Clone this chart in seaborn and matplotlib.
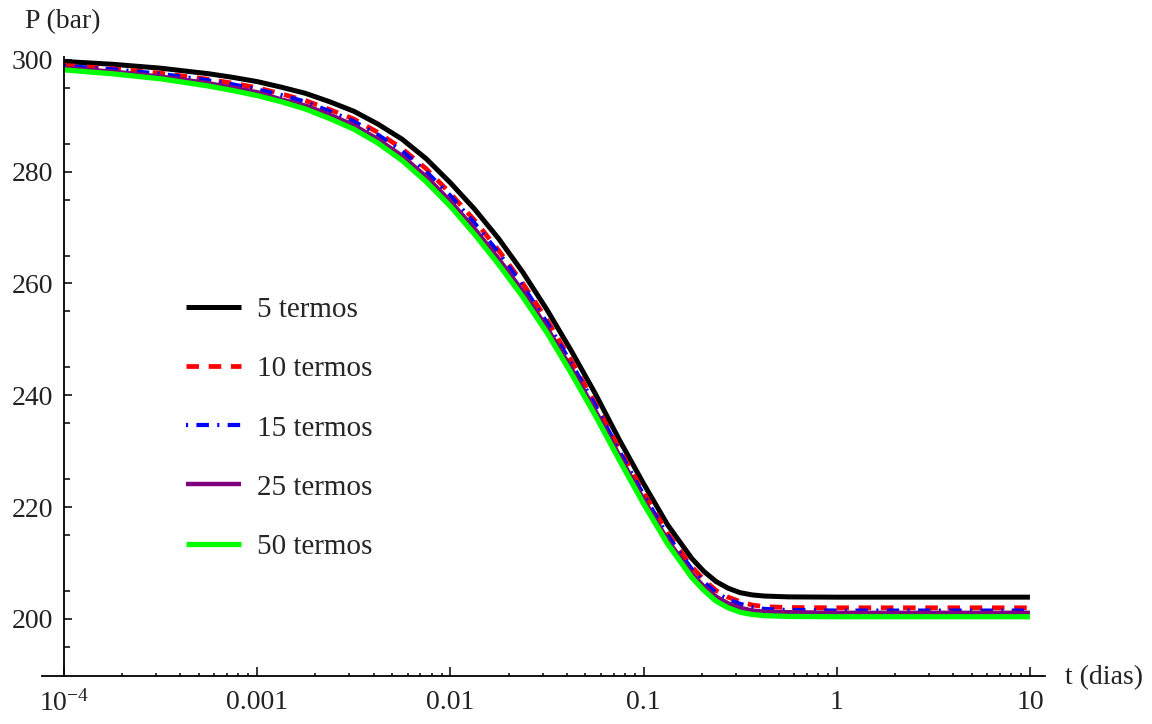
import numpy as np
import pandas as pd
import matplotlib
matplotlib.use("Agg")
import matplotlib.pyplot as plt
import matplotlib.ticker as mticker
import seaborn as sns

# ---- data ----
log_t = [-4.00, -3.75, -3.50, -3.25, -3.125, -3.00, -2.875, -2.75, -2.625,
         -2.50, -2.375, -2.25, -2.125, -2.00, -1.875, -1.75, -1.625, -1.50,
         -1.375, -1.25, -1.125, -1.00, -0.875, -0.75, -0.6875, -0.625, -0.5625,
         -0.50, -0.4375, -0.375, -0.25, 0.00, 0.50, 1.00]

p_5 = [299.7, 299.2, 298.5, 297.5, 296.85, 296.1, 295.1, 294.0, 292.5,
       290.8, 288.5, 285.8, 282.3, 278.0, 273.3, 268.0, 262.0, 255.3,
       248.0, 240.3, 232.0, 224.2, 216.8, 210.8, 208.5, 206.7, 205.5,
       204.7, 204.3, 204.1, 203.95, 203.9, 203.9, 203.9]
p_10 = [299.0, 298.4, 297.6, 296.5, 295.8, 295.0, 293.9, 292.7, 291.1,
        289.4, 287.0, 284.1, 280.5, 276.1, 271.3, 265.9, 260.0, 253.5,
        246.2, 238.5, 230.4, 222.6, 215.3, 209.3, 207.0, 205.1, 203.9,
        203.1, 202.5, 202.2, 202.05, 202.0, 202.0, 202.0]
p_15 = [298.9, 298.3, 297.5, 296.3, 295.6, 294.7, 293.7, 292.5, 290.8,
        289.0, 286.6, 283.7, 280.0, 275.7, 270.8, 265.5, 259.6, 253.0,
        245.8, 238.2, 230.0, 222.2, 214.9, 208.9, 206.6, 204.7, 203.5,
        202.7, 202.1, 201.8, 201.6, 201.5, 201.5, 201.5]
p_25 = [298.5, 297.9, 297.0, 295.8, 295.0, 294.2, 292.9, 291.8, 290.2,
        288.3, 285.8, 282.8, 279.1, 274.7, 269.8, 264.4, 258.6, 252.1,
        244.9, 237.3, 229.2, 221.4, 214.1, 208.1, 205.8, 204.0, 202.8,
        202.0, 201.5, 201.3, 201.2, 201.1, 201.1, 201.1]
p_50 = [298.2, 297.5, 296.6, 295.3, 294.5, 293.6, 292.5, 291.2, 289.5,
        287.6, 285.1, 282.0, 278.2, 273.8, 268.8, 263.4, 257.6, 251.2,
        244.0, 236.4, 228.4, 220.6, 213.4, 207.4, 205.1, 203.2, 202.0,
        201.2, 200.8, 200.6, 200.45, 200.4, 200.4, 200.4]

series_labels = ["5 termos", "10 termos", "15 termos", "25 termos", "50 termos"]
series_values = [p_5, p_10, p_15, p_25, p_50]

y_ticks = [200, 220, 240, 260, 280, 300]
x_ticks = [1e-4, 1e-3, 1e-2, 1e-1, 1, 10]
x_tick_labels = ["$10^{-4}$", "0.001", "0.01", "0.1", "1", "10"]

# ---- styles ----
colors = ["#000000", "#ff0000", "#0000ff", "#800080", "#00ff00"]
widths = [3.6, 3.4, 3.0, 3.2, 3.8]
styles = ["-", (0, (9, 7)), (0, (1.5, 6, 9, 6)), "-", "-"]

sns.set_theme(style="white")
plt.rcParams["font.family"] = ["Liberation Serif", "DejaVu Serif"]
plt.rcParams["mathtext.fontset"] = "custom"
plt.rcParams["mathtext.rm"] = "Liberation Serif"
plt.rcParams["mathtext.it"] = "Liberation Serif:italic"
plt.rcParams["lines.scale_dashes"] = False

fig = plt.figure(figsize=(11.52, 7.24), dpi=100)
ax = fig.add_axes([42 / 1152, 48 / 724, (1045 - 42) / 1152, (676 - 57) / 724])

t_vals = [10 ** v for v in log_t]
for lab, vals, c, lw, ls in zip(series_labels, series_values, colors, widths, styles):
    df = pd.DataFrame({"t": t_vals, "P": vals})
    sns.lineplot(data=df, x="t", y="P", ax=ax, color=c, linewidth=lw,
                 linestyle=ls, label=lab, sort=True, estimator=None,
                 solid_capstyle="butt", dash_capstyle="butt",
                 solid_joinstyle="round")

ax.set_xscale("log")
ax.set_xlim(10 ** -4.114, 10 ** 1.078)
ax.set_ylim(189.8, 300.5)

for s in ["top", "right"]:
    ax.spines[s].set_visible(False)
ax.spines["left"].set_position(("data", 1e-4))
for s in ["left", "bottom"]:
    ax.spines[s].set_color("black")
    ax.spines[s].set_linewidth(1.3)

ax.set_xticks(x_ticks)
ax.set_xticklabels(x_tick_labels)
minor_x = [m * 10.0 ** e for e in range(-4, 1) for m in range(2, 10)]
ax.xaxis.set_minor_locator(mticker.FixedLocator(minor_x))
ax.xaxis.set_minor_formatter(mticker.NullFormatter())
ax.set_yticks(y_ticks)
ax.set_yticklabels([str(v) for v in y_ticks])
ax.yaxis.set_minor_locator(mticker.FixedLocator([195, 205, 215, 225, 235, 245, 255, 265, 275, 285, 295]))

ax.xaxis.set_ticks_position("bottom")
ax.yaxis.set_ticks_position("left")
ax.tick_params(axis="both", which="both", direction="in", colors="black", width=1.1)
ax.tick_params(axis="x", which="major", length=6.5, pad=10, labelsize=20)
ax.tick_params(axis="x", which="minor", length=2.5)
ax.tick_params(axis="y", which="major", length=6, pad=8, labelsize=20)
ax.tick_params(axis="y", which="minor", length=4.5)
for lbl in ax.get_xticklabels() + ax.get_yticklabels():
    lbl.set_color("#222222")

ax.set_xlabel("")
ax.set_ylabel("")
ax.grid(False)
ax.set_facecolor("white")

fig.text(25 / 1152, 1 - 22 / 724, "P (bar)", fontsize=20, va="center", ha="left", color="#222222")
fig.text(1065 / 1152, 1 - 678 / 724, "t (dias)", fontsize=20, va="center", ha="left", color="#222222")

ax.legend(loc="upper left", bbox_to_anchor=(186 / 1152, 1 - 297 / 724),
          bbox_transform=fig.transFigure, frameon=False, fontsize=21,
          handlelength=1.9, handletextpad=0.55, labelspacing=1.12, borderpad=0,
          borderaxespad=0)

fig.savefig("out.png", dpi=100, facecolor="white")
